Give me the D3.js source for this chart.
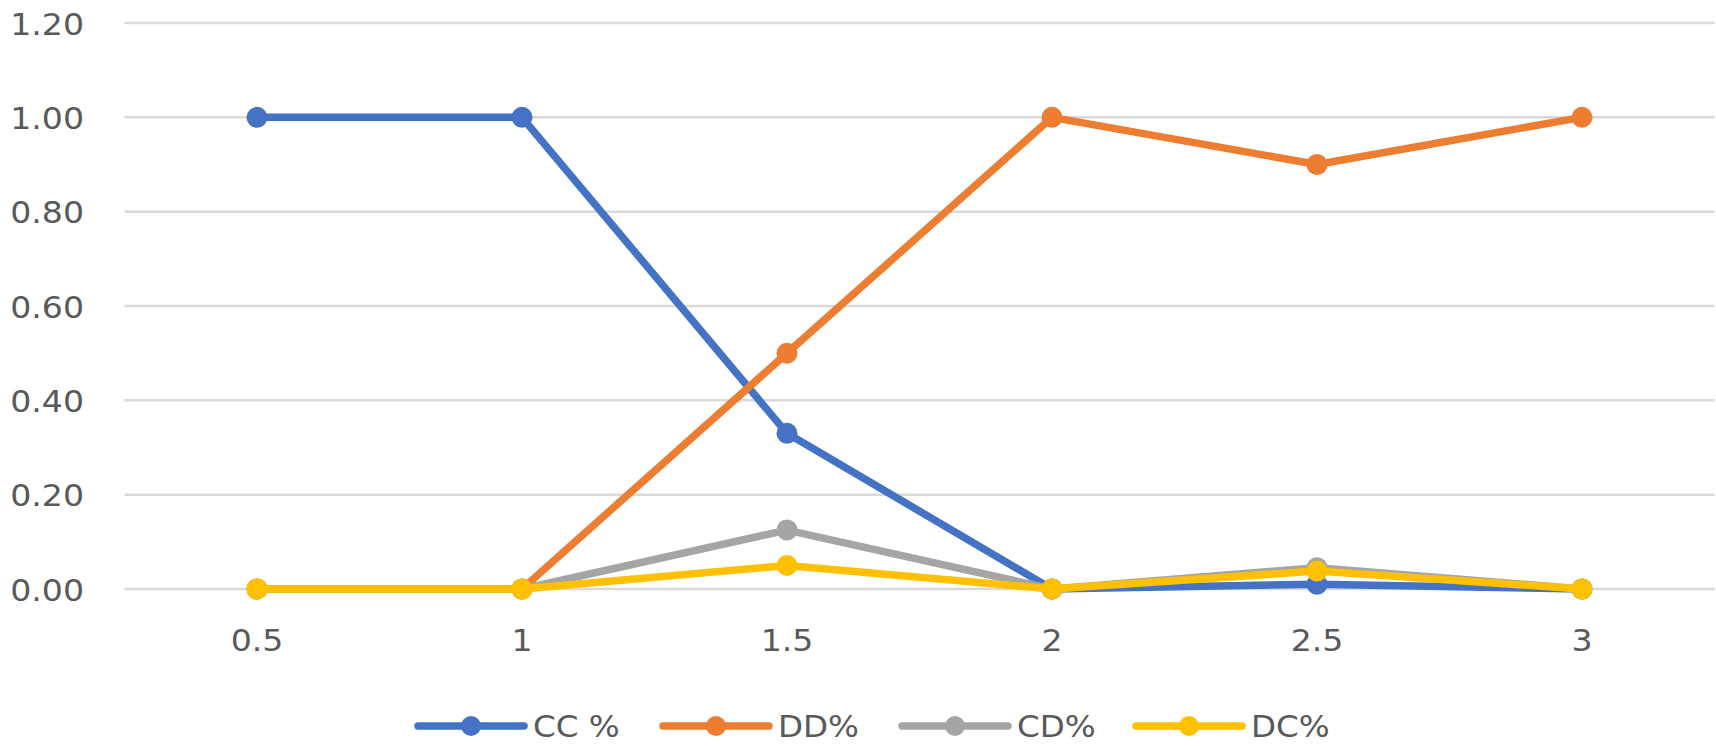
<!DOCTYPE html>
<html>
<head>
<meta charset="utf-8">
<script src="https://cdn.jsdelivr.net/npm/d3@7"></script>
<style>
  html, body { margin: 0; padding: 0; background: #ffffff; }
  svg { display: block; }
  text { font-family: "DejaVu Sans", sans-serif; fill: #595959; }
</style>
</head>
<body>
<svg id="chart" width="1716" height="746"></svg>
<script>
// ---- data ----
const categories = ["0.5", "1", "1.5", "2", "2.5", "3"];
const ccValues = [1.00, 1.00, 0.33, 0.00, 0.01, 0.00];
const ddValues = [0.00, 0.00, 0.50, 1.00, 0.90, 1.00];
const cdValues = [0.00, 0.00, 0.125, 0.00, 0.045, 0.00];
const dcValues = [0.00, 0.00, 0.05, 0.00, 0.038, 0.00];
const seriesNames = ["CC %", "DD%", "CD%", "DC%"];
const yTickValues = [0, 0.2, 0.4, 0.6, 0.8, 1.0, 1.2];

const colors = ["#4472C4", "#ED7D31", "#A5A5A5", "#FFC000"];
const series = [ccValues, ddValues, cdValues, dcValues].map((v, i) => ({
  name: seriesNames[i], values: v, color: colors[i]
}));

const plot = { left: 124.5, right: 1714.5, top: 23, bottom: 589 };

const svg = d3.select("#chart");

const x = d3.scaleBand().domain(categories).range([plot.left, plot.right]);
const y = d3.scaleLinear().domain([0, 1.2]).range([plot.bottom, plot.top]);
const cx = d => x(d) + x.bandwidth() / 2;

// gridlines
svg.append("g").selectAll("line").data(yTickValues).join("line")
  .attr("x1", plot.left).attr("x2", plot.right)
  .attr("y1", d => y(d)).attr("y2", d => y(d))
  .attr("stroke", "#d9d9d9").attr("stroke-width", 2.5);

// y axis labels
const yAxis = d3.axisLeft(y).tickValues(yTickValues).tickFormat(d3.format(".2f")).tickSize(0).tickPadding(0);
const yG = svg.append("g").attr("transform", "translate(84,0)").call(yAxis);
yG.select(".domain").remove();
yG.selectAll("text")
  .attr("x", 0).attr("dy", "0.36em")
  .style("font-size", "31px").style("fill", "#595959")
  .style("font-family", "DejaVu Sans, sans-serif")
  .attr("transform", "scale(1.07,1)");

// x axis labels
const xAxis = d3.axisBottom(x).tickSize(0).tickPadding(0);
const xG = svg.append("g").attr("transform", "translate(0,640)").call(xAxis);
xG.select(".domain").remove();
xG.selectAll("text")
  .attr("y", 0).attr("dy", "0.36em")
  .style("font-size", "31px").style("fill", "#595959")
  .style("font-family", "DejaVu Sans, sans-serif")
  .attr("transform", "scale(1.07,1)");

// lines
const line = d3.line().x((d, i) => cx(categories[i])).y(d => y(d));
const sg = svg.append("g").selectAll("g").data(series).join("g");
sg.append("path")
  .attr("d", d => line(d.values))
  .attr("fill", "none")
  .attr("stroke", d => d.color)
  .attr("stroke-width", 7.5)
  .attr("stroke-linejoin", "round");
sg.selectAll("circle").data(d => d.values.map((v, i) => ({ v, i, color: d.color }))).join("circle")
  .attr("cx", d => cx(categories[d.i]))
  .attr("cy", d => y(d.v))
  .attr("r", 10.5)
  .attr("fill", d => d.color);

// legend
const legendX = [418, 663, 902, 1136];
const legendY = 726;
const lg = svg.append("g").selectAll("g").data(series).join("g")
  .attr("transform", (d, i) => `translate(${legendX[i]},${legendY})`);
lg.append("line")
  .attr("x1", 0).attr("x2", 106).attr("y1", 0).attr("y2", 0)
  .attr("stroke", d => d.color).attr("stroke-width", 7.5).attr("stroke-linecap", "round");
lg.append("circle").attr("cx", 53).attr("cy", 0).attr("r", 10).attr("fill", d => d.color);
lg.append("g").attr("transform", "translate(115,0) scale(1.05,1)")
  .append("text")
  .attr("x", 0).attr("y", 0).attr("dy", "0.36em")
  .style("font-size", "31px")
  .text(d => d.name);
</script>
</body>
</html>
